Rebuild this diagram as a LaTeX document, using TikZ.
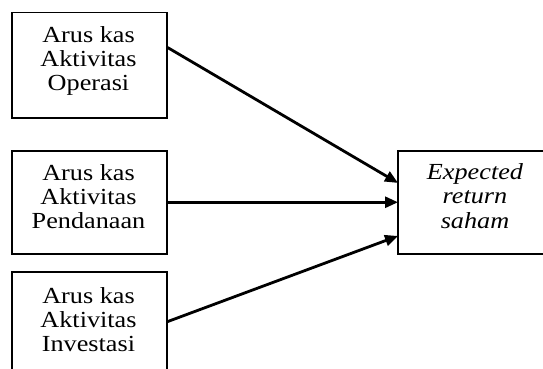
\documentclass[tikz,border=0pt]{standalone}
\usepackage{fontspec}
\setmainfont{Liberation Serif}[FakeStretch=1.14]
\usetikzlibrary{arrows.meta,calc}
\begin{document}
\begin{tikzpicture}[x=1pt,y=-1pt,
  box/.style={draw, line width=1.5pt, inner sep=0pt, anchor=north west},
  lbl/.style={font=\fontsize{23}{24}\selectfont, align=center, inner sep=0pt, anchor=base},
  rlbl/.style={font=\fontsize{23}{24.5}\selectfont\itshape, align=center, inner sep=0pt, anchor=base},
  conn/.style={line width=2.8pt, -{Triangle[length=13pt,width=11pt]}}]
\useasboundingbox (0,0) rectangle (543,369);
\clip (0,0) rectangle (543,369);
\node[box, minimum width=155pt, minimum height=105pt] (b1) at (11,12) {};
\node[box, minimum width=155pt, minimum height=103pt] (b2) at (11,150) {};
\node[box, minimum width=155pt, minimum height=130pt] (b3) at (11,271) {};
\coordinate (rnw) at (398,151);
\coordinate (rsw) at (398,254);
\coordinate (rne) at (600,151);
\coordinate (rse) at (600,254);
\draw[line width=1.5pt] (rne) -- (rnw) -- (rsw) -- (rse);
\node[lbl] (t1) at (88.5,90.7) {Arus kas\\Aktivitas\\Operasi};
\node[lbl] (t2) at (88.5,228.7) {Arus kas\\Aktivitas\\Pendanaan};
\node[lbl] (t3) at (88.5,351.5) {Arus kas\\Aktivitas\\Investasi};
\node[rlbl] (tr) at (475,228) {Expected\\return\\saham};
\draw[conn] ($(b1.north east)!0.333!(b1.south east)$) -- ($(rnw)!0.31!(rsw)$);
\draw[conn] (b2.east) -- (rnw |- b2.east);
\draw[conn] ($(b3.north east)!0.385!(b3.south east)$) -- ($(rnw)!0.825!(rsw)$);
\end{tikzpicture}
\end{document}
